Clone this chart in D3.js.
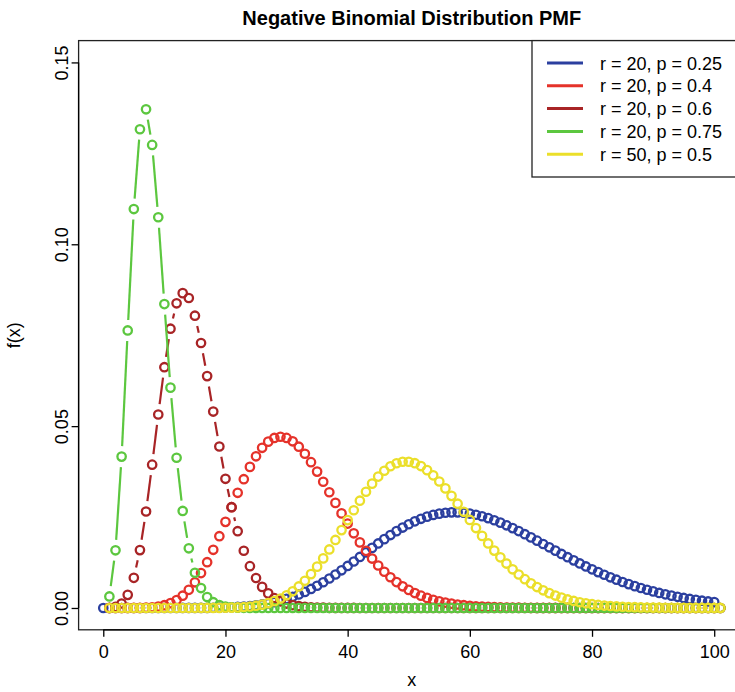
<!DOCTYPE html>
<html>
<head>
<meta charset="utf-8">
<script src="https://cdn.jsdelivr.net/npm/d3@7"></script>
<style>
  body { margin: 0; background: #fff; }
  svg { display: block; font-family: "Liberation Sans", Arial, sans-serif; }
</style>
</head>
<body>
<script>
// dnbinom values, one array per curve
const blueY = [0,
  0, 0, 0, 0, 0, 0, 0, 0, 0, 0, 0, 0,
  0.000004, 0.0000075, 0.0000133, 0.0000226, 0.000037, 0.0000588, 0.0000907, 0.000136, 0.000199, 0.000284,
  0.000397, 0.000544, 0.000731, 0.000965, 0.001252, 0.0016, 0.002014, 0.0025, 0.003062, 0.003704,
  0.004427, 0.005232, 0.006117, 0.007078, 0.00811, 0.009206, 0.010357, 0.011552, 0.012779, 0.014026,
  0.015278, 0.016522, 0.017742, 0.018925, 0.020056, 0.021123, 0.022113, 0.023016, 0.023822, 0.024523,
  0.025112, 0.025586, 0.025941, 0.026177, 0.026294, 0.026294, 0.026181, 0.025959, 0.025635, 0.025215,
  0.024707, 0.024119, 0.023459, 0.022737, 0.021962, 0.021143, 0.020288, 0.019406, 0.018505, 0.017593,
  0.016677, 0.015763, 0.014858, 0.013967, 0.013094, 0.012244, 0.01142, 0.010625, 0.009861, 0.009131,
  0.008435, 0.007774, 0.007149, 0.00656, 0.006007, 0.005489, 0.005006, 0.004556, 0.004138, 0.003752,
  0.003395, 0.003066, 0.002764, 0.002488, 0.002235, 0.002005, 0.001795, 0.001605];

const redY = [0, 0, 0, 0.0000037, 0.0000126, 0.0000363, 0.0000908, 0.000202, 0.00041, 0.000765,
  0.001332, 0.002179, 0.003378, 0.004988, 0.007055, 0.009595, 0.012593, 0.016001, 0.019734, 0.023681,
  0.027707, 0.031665, 0.035407, 0.038794, 0.041704, 0.044039, 0.045733, 0.046749, 0.047083, 0.046758,
  0.045823, 0.044345, 0.042405, 0.040092, 0.037498, 0.034712, 0.031819, 0.028896, 0.026006, 0.023205,
  0.020537, 0.018032, 0.015714, 0.013594, 0.011679, 0.009966, 0.008449, 0.007119, 0.005962, 0.004964,
  0.004111, 0.003385, 0.002773, 0.00226, 0.001833, 0.00148, 0.001189, 0.000952, 0.000758, 0.000601,
  0.000475, 0.000374, 0.000293, 0.000229, 0.000178, 0.000138, 0.000107, 0.000082, 0.000063, 0.000048,
  0.000037, 0.000028, 0.000021, 0.000016, 0.000012, 0.000009, 0, 0, 0, 0,
  0, 0, 0, 0, 0, 0, 0, 0, 0, 0,
  0, 0, 0, 0, 0, 0, 0, 0, 0, 0, 0];

const darkRedY = [0.000037, 0.000292, 0.001228, 0.003604, 0.008288, 0.015913, 0.026522, 0.039404, 0.053195, 0.066199,
  0.076791, 0.083771, 0.086564, 0.085232, 0.080362, 0.072861, 0.063754, 0.054003, 0.044403, 0.035522,
  0.027707, 0.02111, 0.015737, 0.011495, 0.008238, 0.0058, 0.004015, 0.002736, 0.001837, 0.001216,
  0.000795, 0.000513, 0.000327, 0.000206, 0.000128, 0.000079, 0.000048, 0.000029, 0.000018, 0.00001,
  0.000006, 0, 0, 0, 0, 0, 0, 0, 0, 0,
  0, 0, 0, 0, 0, 0, 0, 0, 0, 0,
  0, 0, 0, 0, 0, 0, 0, 0, 0, 0,
  0, 0, 0, 0, 0, 0, 0, 0, 0, 0,
  0, 0, 0, 0, 0, 0, 0, 0, 0, 0,
  0, 0, 0, 0, 0, 0, 0, 0, 0, 0, 0];

const greenY = [0.003171, 0.015856, 0.041622, 0.076307, 0.109691, 0.131629, 0.137114, 0.12732, 0.107426, 0.083554,
  0.060577, 0.041302, 0.026674, 0.016415, 0.009673, 0.005481, 0.002998, 0.001587, 0.000816, 0.000408,
  0.000199, 0.000095, 0.000044, 0.00002, 0.000009, 0.000004, 0, 0, 0, 0,
  0, 0, 0, 0, 0, 0, 0, 0, 0, 0,
  0, 0, 0, 0, 0, 0, 0, 0, 0, 0,
  0, 0, 0, 0, 0, 0, 0, 0, 0, 0,
  0, 0, 0, 0, 0, 0, 0, 0, 0, 0,
  0, 0, 0, 0, 0, 0, 0, 0, 0, 0,
  0, 0, 0, 0, 0, 0, 0, 0, 0, 0,
  0, 0, 0, 0, 0, 0, 0, 0, 0, 0, 0];

const yellowY = [0, 0, 0, 0, 0, 0, 0, 0, 0, 0,
  0, 0, 0, 0, 0, 0.0000043, 0.0000088, 0.000017, 0.0000317, 0.0000568,
  0.0000979, 0.000163, 0.000263, 0.000412, 0.000627, 0.000928, 0.001339, 0.001884, 0.002591, 0.003485,
  0.004588, 0.00592, 0.007492, 0.009309, 0.011362, 0.013634, 0.016096, 0.018706, 0.021413, 0.024158,
  0.026876, 0.029498, 0.031956, 0.034186, 0.036128, 0.037734, 0.038964, 0.039793, 0.040208, 0.040208,
  0.039806, 0.039025, 0.037899, 0.036469, 0.034781, 0.032884, 0.030829, 0.028665, 0.026441, 0.0242,
  0.021982, 0.01982, 0.017742, 0.015771, 0.013923, 0.012209, 0.010637, 0.009208, 0.007922, 0.006774,
  0.005758, 0.004866, 0.004089, 0.003417, 0.00284, 0.002348, 0.001931, 0.00158, 0.001286, 0.001042,
  0.00084, 0.000674, 0.000538, 0.000428, 0.000339, 0.000267, 0.00021, 0.000164, 0.000128, 0.000099,
  0.0000765, 0.0000588, 0.0000451, 0.0000344, 0.0000262, 0.0000198, 0.000015, 0.0000113, 0.0000085, 0.0000063, 0.0000047];

const seriesLabels = ["r = 20, p = 0.25", "r = 20, p = 0.4", "r = 20, p = 0.6", "r = 20, p = 0.75", "r = 50, p = 0.5"];
const seriesColors = ["#2b3f9f", "#e5322a", "#a82426", "#5cc73f", "#ebdf2a"];
const seriesValues = [blueY, redY, darkRedY, greenY, yellowY];
const seriesStart = [0, 1, 1, 1, 1];   // first x of each curve
const xTicks = [0, 20, 40, 60, 80, 100];
const yTicks = [0, 0.05, 0.10, 0.15];

const width = 735, height = 692;
const box = {left: 78.6, right: 745, top: 40.6, bottom: 629.8};

const svg = d3.select("body").append("svg")
    .attr("width", width).attr("height", height);

// R style axis range: data range plus 4% either side
const x = d3.scaleLinear().domain([-4.04, 105.04]).range([box.left, box.right]);
const y = d3.scaleLinear().domain([-0.006, 0.156]).range([box.bottom, box.top]);

// plot box
svg.append("rect")
    .attr("x", box.left).attr("y", box.top)
    .attr("width", box.right - box.left).attr("height", box.bottom - box.top)
    .attr("fill", "none").attr("stroke", "#222").attr("stroke-width", 1.3);

// x axis
const xAxis = svg.append("g")
    .attr("transform", "translate(0," + box.bottom + ")")
    .call(d3.axisBottom(x).tickValues(xTicks).tickSize(7).tickPadding(8).tickFormat(d3.format("d")));
xAxis.select(".domain").remove();
xAxis.append("line")
    .attr("x1", x(0)).attr("x2", x(100))
    .attr("stroke", "#000").attr("stroke-width", 1.3);
xAxis.selectAll(".tick line").attr("stroke-width", 1.3);
xAxis.selectAll("text").attr("font-size", 18).attr("fill", "#000")
    .attr("font-family", "Liberation Sans, Arial, sans-serif");

// y axis, labels turned like R's las = 0
const yAxis = svg.append("g")
    .attr("transform", "translate(" + box.left + ",0)")
    .call(d3.axisLeft(y).tickValues(yTicks).tickSize(7).tickFormat(d3.format(".2f")));
yAxis.select(".domain").remove();
yAxis.append("line")
    .attr("y1", y(0)).attr("y2", y(0.15))
    .attr("stroke", "#000").attr("stroke-width", 1.3);
yAxis.selectAll(".tick line").attr("stroke-width", 1.3);
yAxis.selectAll("text")
    .attr("font-size", 18).attr("fill", "#000")
    .attr("font-family", "Liberation Sans, Arial, sans-serif")
    .attr("x", null).attr("dy", null)
    .attr("text-anchor", "middle")
    .attr("transform", "translate(-11,0) rotate(-90)");

// titles
svg.append("text")
    .attr("x", (box.left + box.right) / 2).attr("y", 25)
    .attr("text-anchor", "middle").attr("font-size", 20).attr("font-weight", "bold")
    .text("Negative Binomial Distribution PMF");
svg.append("text")
    .attr("x", (box.left + box.right) / 2).attr("y", 686)
    .attr("text-anchor", "middle").attr("font-size", 18)
    .text("x");
svg.append("text")
    .attr("transform", "translate(20," + (box.top + box.bottom) / 2 + ") rotate(-90)")
    .attr("text-anchor", "middle").attr("font-size", 18)
    .text("f(x)");

// type = "b": circles joined by segments that stop short of each point
const gap = 10.5;
seriesValues.forEach((vals, s) => {
  const pts = vals.map((v, i) => [x(i + seriesStart[s]), y(v)]);
  const segs = [];
  for (let i = 0; i < pts.length - 1; i++) {
    const [x1, y1] = pts[i], [x2, y2] = pts[i + 1];
    const len = Math.hypot(x2 - x1, y2 - y1);
    if (len > 2 * gap) {
      const ux = (x2 - x1) / len, uy = (y2 - y1) / len;
      segs.push([x1 + ux * gap, y1 + uy * gap, x2 - ux * gap, y2 - uy * gap]);
    }
  }
  const g = svg.append("g");
  g.selectAll("line").data(segs).enter().append("line")
      .attr("x1", d => d[0]).attr("y1", d => d[1])
      .attr("x2", d => d[2]).attr("y2", d => d[3])
      .attr("stroke", seriesColors[s]).attr("stroke-width", 2.2);
  g.selectAll("circle").data(pts).enter().append("circle")
      .attr("cx", d => d[0]).attr("cy", d => d[1]).attr("r", 4.2)
      .attr("fill", "none").attr("stroke", seriesColors[s]).attr("stroke-width", 2.3);
});

// legend
const leg = svg.append("g");
leg.append("rect")
    .attr("x", 532).attr("y", box.top)
    .attr("width", box.right - 532).attr("height", 177 - box.top)
    .attr("fill", "#fff").attr("stroke", "#222").attr("stroke-width", 1.3);
const rows = leg.selectAll(".row").data(seriesLabels).enter().append("g")
    .attr("transform", (d, i) => "translate(0," + (63 + i * 22.8) + ")");
rows.append("line")
    .attr("x1", 547).attr("x2", 583)
    .attr("stroke", (d, i) => seriesColors[i]).attr("stroke-width", 3);
rows.append("text")
    .attr("x", 600).attr("y", 6.5).attr("font-size", 18)
    .text(d => d);
</script>
</body>
</html>
